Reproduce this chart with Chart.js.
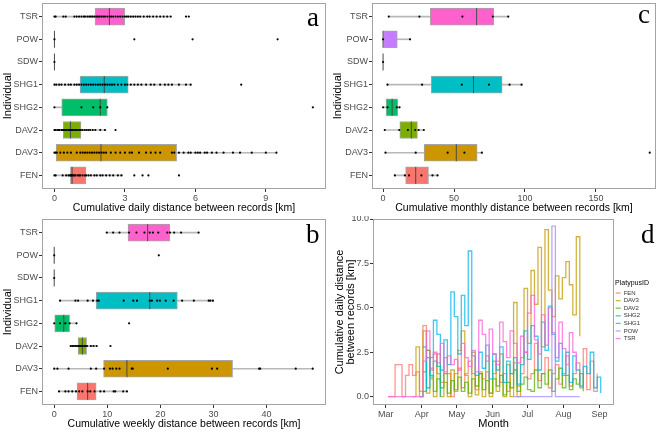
<!DOCTYPE html>
<html>
<head>
<meta charset="utf-8">
<script src="https://cdn.jsdelivr.net/npm/chart.js@4.4.0/dist/chart.umd.min.js"></script>
<style>
body { margin: 0; background: #fff; width: 660px; height: 432px; position: relative; overflow: hidden; }
.panel { position: absolute; width: 330px; height: 216px; }
.tag { position: absolute; font-family: "Liberation Serif", "Times New Roman", serif; font-size: 27px; line-height: 1; color: #000; }
</style>
</head>
<body>
<div class="panel" style="left:0;top:0"><canvas id="chartA" width="330" height="216"></canvas></div>
<div class="panel" style="left:330px;top:0"><canvas id="chartC" width="330" height="216"></canvas></div>
<div class="panel" style="left:0;top:216px"><canvas id="chartB" width="330" height="216"></canvas></div>
<div class="panel" style="left:330px;top:216px"><canvas id="chartD" width="330" height="216"></canvas></div>
<div class="tag" style="left:307px;top:4px">a</div>
<div class="tag" style="left:638px;top:1px">c</div>
<div class="tag" style="left:306px;top:221px">b</div>
<div class="tag" style="left:641px;top:221px">d</div>
<script>
// individuals, bottom to top as in the factor levels
const individuals = ['FEN', 'DAV3', 'DAV2', 'SHG2', 'SHG1', 'SDW', 'POW', 'TSR'];
const boxColors = ['#F8766D', '#CD9600', '#7CAE00', '#00BE67', '#00BFC4', '#00A9FF', '#C77CFF', '#FF61CC'];

// panel a - daily
const dailyLo  = [0, 0, 0, 0, 0, 0, 0, 0];
const dailyQ1  = [0.68, 0.07, 0.37, 0.31, 1.09, 0, 0, 1.73];
const dailyMed = [0.75, 1.98, 0.68, 1.95, 2.12, 0, 0, 2.34];
const dailyQ3  = [1.34, 5.2, 1.13, 2.25, 3.14, 0, 0, 2.99];
const dailyHi  = [2.9, 9.45, 2.2, 2.25, 5.8, 0, 0, 4.9];
const dailyPts = [
  [0, 0.05, 0.35, 0.5, 0.6, 0.65, 0.7, 0.72, 0.75, 0.8, 0.85, 0.9, 1.0, 1.05, 1.1, 1.2, 1.3, 1.35, 1.45, 1.55, 1.7, 1.8, 1.95, 2.05, 2.2, 2.35, 2.5, 2.7, 2.85, 3.4, 3.75, 4.0, 5.3],
  [0, 0.05, 0.1, 0.25, 0.4, 0.55, 0.7, 0.95, 1.1, 1.2, 1.3, 1.4, 1.5, 1.6, 1.7, 1.8, 1.9, 2.0, 2.1, 2.2, 2.4, 2.6, 2.8, 3.0, 3.2, 3.3, 3.6, 3.9, 4.1, 4.3, 4.5, 5.0, 5.1, 5.3, 5.5, 5.7, 5.8, 6.0, 6.1, 6.2, 6.4, 6.5, 6.7, 6.9, 7.2, 7.6, 7.9, 8.4, 9.0, 9.45],
  [0, 0.04, 0.12, 0.18, 0.22, 0.3, 0.33, 0.38, 0.42, 0.47, 0.51, 0.58, 0.62, 0.66, 0.71, 0.77, 0.83, 0.88, 0.94, 1.0, 1.07, 1.12, 1.19, 1.28, 1.36, 1.44, 1.52, 1.63, 1.74, 1.95, 2.15, 2.6],
  [0, 1.15, 1.65, 1.95, 2.25, 11.0],
  [0, 0.08, 0.2, 0.3, 0.45, 0.6, 0.7, 0.85, 0.95, 1.05, 1.15, 1.25, 1.35, 1.45, 1.55, 1.65, 1.75, 1.85, 1.95, 2.05, 2.15, 2.25, 2.35, 2.45, 2.55, 2.7, 2.85, 3.0, 3.1, 3.25, 3.4, 3.55, 3.7, 3.9, 4.1, 4.25, 4.5, 4.7, 4.85, 5.0, 5.3, 5.6, 5.8, 7.95],
  [0],
  [0, 3.4, 5.88, 9.5],
  [0, 0.05, 0.38, 0.48, 0.85, 0.95, 1.05, 1.15, 1.25, 1.3, 1.4, 1.48, 1.55, 1.62, 1.7, 1.78, 1.85, 1.92, 2.0, 2.08, 2.15, 2.25, 2.35, 2.42, 2.5, 2.6, 2.7, 2.8, 2.9, 3.0, 3.08, 3.15, 3.25, 3.35, 3.45, 3.55, 3.65, 3.8, 3.95, 4.05, 4.2, 4.35, 4.5, 4.65, 4.8, 4.95, 5.6, 5.72]
];
const dailyTicks = [0, 3, 6, 9];

// panel b - weekly
const weeklyLo  = [0.9, 0, 3.1, 0, 1.1, 0, 0, 9.9];
const weeklyQ1  = [4.3, 9.3, 4.5, 0, 7.9, 0, 0, 13.9];
const weeklyMed = [6.3, 13.7, 5.3, 1.8, 18.0, 0, 0, 17.6];
const weeklyQ3  = [7.9, 33.6, 6.1, 2.9, 23.2, 0, 0, 21.8];
const weeklyHi  = [13.7, 48.7, 8.0, 4.2, 29.9, 0, 0, 27.2];
const weeklyPts = [
  [0.9, 2.1, 2.7, 3.4, 4.1, 4.7, 5.3, 6.3, 6.8, 7.6, 8.7, 9.4, 11.2, 11.5, 13.0, 13.7],
  [0, 0.6, 2.7, 6.9, 7.9, 9.4, 10.5, 11.0, 11.7, 12.3, 14.6, 14.8, 21.4, 29.7, 30.7, 38.6, 38.8, 45.5, 48.7],
  [3.1, 3.4, 3.7, 4.0, 4.3, 4.6, 4.8, 5.0, 5.2, 5.4, 5.7, 5.9, 6.2, 6.9, 7.4, 8.0, 10.6],
  [0, 1.1, 2.1, 2.9, 4.2, 14.1],
  [1.1, 4.0, 4.5, 6.3, 7.3, 8.1, 8.4, 13.1, 14.9, 15.6, 18.0, 18.4, 19.4, 19.9, 21.0, 22.5, 24.1, 26.3, 29.1, 29.4, 29.9],
  [0],
  [0, 19.7],
  [9.9, 11.1, 12.3, 14.1, 15.5, 17.0, 18.0, 18.6, 19.6, 21.3, 21.8, 22.6, 23.9, 27.2]
];
const weeklyTicks = [0, 10, 20, 30, 40];

// panel c - monthly
const monthlyLo  = [8.3, 1.7, 1.2, 0, 3.1, 0, 0, 4.0];
const monthlyQ1  = [15.9, 28.9, 11.8, 2.1, 33.9, 0, 0, 33.2];
const monthlyMed = [23.0, 51.6, 19.9, 6.4, 63.7, 0, 0, 65.9];
const monthlyQ3  = [32.0, 66.3, 24.2, 10.4, 83.9, 0, 10.0, 78.0];
const monthlyHi  = [38.4, 69.6, 28.7, 11.6, 97.6, 0, 19.0, 88.2];
const monthlyPts = [
  [8.3, 15.4, 18.3, 27.0, 34.8, 38.4],
  [1.7, 23.0, 45.5, 57.3, 69.6, 187.9],
  [1.2, 11.4, 17.5, 22.7, 25.1, 28.7],
  [0, 3.1, 9.7, 11.6],
  [3.1, 27.5, 55.5, 74.6, 89.1, 97.6],
  [0],
  [0, 19.0],
  [4.0, 25.6, 55.9, 77.3, 88.2]
];
const monthlyTicks = [0, 50, 100, 150];

// panel d - daily series, days counted from 1 March
const monthDays = [0, 31, 61, 92, 122, 153, 184];
const monthLabels = ['Mar', 'Apr', 'May', 'Jun', 'Jul', 'Aug', 'Sep'];
const dDays = [2,5,8,11,14,17,20,23,26,29,32,35,38,41,44,47,50,53,56,59,62,65,68,71,74,77,80,83,86,89,92,95,98,101,104,107,110,113,116,119,122,125,128,131,134,137,140,143,146,149,152,155,158,161,164,167,170,173,176,179,182,185];
const seriesNames = ['FEN', 'DAV3', 'DAV2', 'SHG2', 'SHG1', 'POW', 'TSR'];
const seriesColors = ['#F8766D', '#C49A00', '#53B400', '#00C094', '#00B6EB', '#A58AFF', '#FB61D7'];
const fenDaily  = [0,0,1.8,1.8,0,1.2,1.8,1.2,1.4,0.3,4.0,2.6,1.5,2.4,1.3,0.8,2.2,1.3,0,1.3,1.6,0.5,1.3,2.0,1.3,0.4,1.3,1.0,1.4,0.2,1.3,2.0,0.8,1.3,0.3,1.3,1.9,0.6,1.3,2.5,1.0,1.3,3.0,0.9,1.3,2.2,0.5,1.3,1.8,0.7,1.3,2.3,0.6,1.3,1.9,0.5,2.7,0.4,2.0,0.3,1.3,null];
const dav3Daily = [null,null,null,null,null,null,null,0,2.8,0,3.7,0.2,1.0,0,2.4,0,0.8,0,1.5,0.3,2.6,3.7,1.2,0,2.5,0.1,1.4,0,2.3,0,2.0,0.3,2.4,0,1.8,0,5.3,0,2.2,6.1,3.0,7.1,5.2,8.4,2.8,9.4,6.0,4.5,6.8,5.5,6.7,7.6,6.3,4.6,9.0,3.4,null,null,null,null,null,null];
const dav2Daily = [null,null,null,null,null,null,null,null,null,null,1.4,2.6,1.2,0.3,1.0,0.5,1.3,0.2,0.9,0.4,1.1,0.3,0.8,0.2,1.0,0.6,1.3,0.4,0.9,0.2,1.0,0.6,1.2,0.1,0.8,0.5,1.5,0.3,0.7,1.1,0.4,0.3,1.5,0.5,1.3,0.7,1.5,0.3,1.0,1.6,0.5,1.2,0.4,1.0,0.7,1.3,0.3,null,null,null,null,null];
const shg2Daily = [null,null,null,null,null,null,null,null,null,0,0.3,2.2,1.1,2.0,1.7,0,null,null,null,null,null,null,null,null,null,null,null,null,null,null,null,null,null,null,null,null,null,null,null,null,null,null,null,null,null,null,null,null,null,null,null,null,null,null,null,null,null,null,null,null,null,null];
const shg1Daily = [null,null,null,null,null,null,null,null,null,null,2.8,0.5,2.2,4.3,3.5,1.5,3.2,1.8,5.9,4.5,2.4,5.7,4.0,8.2,2.3,1.2,2.5,1.6,2.9,1.0,2.4,1.5,2.8,0.8,2.0,1.3,2.2,0.7,1.8,3.7,2.1,4.0,3.4,1.5,4.2,2.6,5.1,3.5,2.0,3.0,1.2,2.5,0.8,2.3,1.5,0.6,1.7,1.3,2.5,0.5,1.1,0.2];
const powDaily  = [null,null,null,null,null,null,null,null,null,null,null,null,null,null,null,null,null,null,null,null,null,null,null,null,null,null,null,null,null,null,null,null,null,null,null,null,0,0,0,0,0,0,0,0,0,0,0,9.6,0,0,0,0,0,0,0,0,null,null,null,null,null,null];
const tsrDaily  = [0,0,0,0,0,0,0,0,0,0,2.0,3.7,1.6,2.5,1.9,3.0,1.4,2.3,1.8,2.1,1.5,3.0,2.2,1.7,2.6,1.4,4.3,3.5,2.0,3.8,2.4,1.8,4.2,3.1,2.2,3.7,3.0,1.9,3.4,2.5,4.7,5.7,3.2,2.4,4.6,2.9,5.0,3.6,2.2,4.2,2.7,1.8,3.6,2.5,1.5,null,null,null,null,null,null,null];
const seriesValues = [fenDaily, dav3Daily, dav2Daily, shg2Daily, shg1Daily, powDaily, tsrDaily];

const family = '"Liberation Sans", Arial, sans-serif';
const tickGrey = '#4d4d4d';

const framePlugin = {
  id: 'frame',
  afterDraw(chart) {
    const a = chart.chartArea, ctx = chart.ctx;
    ctx.save();
    ctx.strokeStyle = '#a3a3a3';
    ctx.lineWidth = 1;
    ctx.strokeRect(Math.round(a.left) + 0.5, Math.round(a.top) + 0.5, Math.round(a.width) - 1, Math.round(a.height) - 1);
    ctx.restore();
  }
};

function axisBase() {
  return {
    offset: false,
    grid: { drawOnChartArea: false, drawTicks: true, tickLength: 3, color: '#333', offset: false },
    border: { display: false },
    ticks: { color: tickGrey, font: { size: 9, family }, padding: 1, maxRotation: 0, autoSkip: false }
  };
}

function boxChart(id, lo, q1, med, q3, hi, pts, xMin, xMax, xTicks, xTitle) {
  const pos = individuals.map((n, i) => i + 1);
  const pointData = [];
  pts.forEach((list, i) => list.forEach(v => pointData.push({ x: v, y: pos[i] })));
  new Chart(document.getElementById(id), {
    type: 'bar',
    data: {
      datasets: [
        { type: 'scatter', data: pointData, pointRadius: 1.1, pointBackgroundColor: '#000', pointBorderWidth: 0 },
        { type: 'scatter', data: med.map((v, i) => ({ x: v, y: pos[i] })), pointStyle: 'line', pointRotation: 90,
          pointRadius: 8.5, pointBorderColor: '#4a4a4a', pointBorderWidth: 1 },
        { data: q1.map((v, i) => ({ x: [v, q3[i]], y: pos[i] })), backgroundColor: boxColors, borderColor: '#a6a6a6',
          borderWidth: 1, borderSkipped: false, barThickness: 17, grouped: false },
        { data: lo.map((v, i) => ({ x: [v, hi[i]], y: pos[i] })), backgroundColor: '#b8b8b8', barThickness: 1, grouped: false }
      ]
    },
    options: {
      indexAxis: 'y', responsive: false, animation: false,
      layout: { autoPadding: false, padding: { top: 3, right: 4 } },
      plugins: { legend: { display: false }, tooltip: { enabled: false } },
      scales: {
        x: Object.assign(axisBase(), {
          type: 'linear', min: xMin, max: xMax,
          afterBuildTicks: s => { s.ticks = xTicks.map(v => ({ value: v })); },
          afterFit: s => { s.height = 27; s.paddingLeft = 0; s.paddingRight = 0; },
          title: { display: true, text: xTitle, color: '#000', font: { size: 10.5, family }, padding: { top: 0, bottom: 2 } }
        }),
        y: Object.assign(axisBase(), {
          type: 'linear', min: 0.4, max: 8.6,
          afterBuildTicks: s => { s.ticks = pos.map(v => ({ value: v })); },
          afterFit: s => { s.width = 42; s.paddingTop = 0; s.paddingBottom = 0; },
          title: { display: true, text: 'Individual', color: '#000', font: { size: 11, family }, padding: { top: 1, bottom: 0 } }
        })
      }
    },
    plugins: [framePlugin]
  });
  const c = Chart.getChart(id);
  c.options.scales.y.ticks.callback = v => individuals[v - 1];
  c.update();
}

boxChart('chartA', dailyLo, dailyQ1, dailyMed, dailyQ3, dailyHi, dailyPts, -0.53, 11.56, dailyTicks,
  'Cumulative daily distance between records [km]');
boxChart('chartB', weeklyLo, weeklyQ1, weeklyMed, weeklyQ3, weeklyHi, weeklyPts, -2.3, 51.2, weeklyTicks,
  'Cumulative weekly distance between records [km]');
boxChart('chartC', monthlyLo, monthlyQ1, monthlyMed, monthlyQ3, monthlyHi, monthlyPts, -7.8, 192.3, monthlyTicks,
  'Cumulative monthly distance between records [km]');

// panel d
const lineSets = seriesNames.map((name, k) => ({
  label: name,
  data: seriesValues[k].map((v, i) => ({ x: dDays[i], y: v })).filter(p => p.y !== null),
  borderColor: seriesColors[k] + 'BF',
  backgroundColor: seriesColors[k] + 'BF',
  borderWidth: 1.3,
  stepped: true,
  pointRadius: 0,
  fill: false
})).reverse();

new Chart(document.getElementById('chartD'), {
  type: 'line',
  data: { datasets: lineSets },
  options: {
    responsive: false, animation: false,
    layout: { autoPadding: false, padding: { top: 3, right: 10 } },
    plugins: {
      tooltip: { enabled: false },
      legend: {
        position: 'right', reverse: true, align: 'start',
        title: { display: true, text: 'PlatypusID', color: '#000', font: { size: 7, family }, padding: { top: 61, bottom: 0 } },
        labels: { usePointStyle: true, pointStyle: 'line', pointStyleWidth: 5, boxHeight: 6, color: '#333',
          font: { size: 6, family }, padding: 1.6 }
      }
    },
    scales: {
      x: Object.assign(axisBase(), {
        type: 'linear', min: -11, max: 196.5,
        afterBuildTicks: s => { s.ticks = monthDays.map(v => ({ value: v })); },
        afterFit: s => { s.height = 27; s.paddingLeft = 0; s.paddingRight = 0; },
        title: { display: true, text: 'Month', color: '#000', font: { size: 11, family }, padding: { top: 0, bottom: 1 } }
      }),
      y: Object.assign(axisBase(), {
        type: 'linear', min: -0.47, max: 10.0,
        afterBuildTicks: s => { s.ticks = [0, 2.5, 5, 7.5, 10].map(v => ({ value: v })); },
        afterFit: s => { s.width = 43; s.paddingTop = 0; s.paddingBottom = 0; },
        title: { display: true, text: ['Cumulative daily distance', 'between records [km]'], color: '#000',
          font: { size: 11, family, lineHeight: 1.05 }, padding: { top: 4, bottom: 0 } }
      })
    }
  },
  plugins: [framePlugin]
});
const chartD = Chart.getChart('chartD');
chartD.options.scales.x.ticks.callback = v => monthLabels[monthDays.indexOf(v)];
chartD.options.scales.y.ticks.callback = v => v.toFixed(1);
chartD.update();
</script>
</body>
</html>
